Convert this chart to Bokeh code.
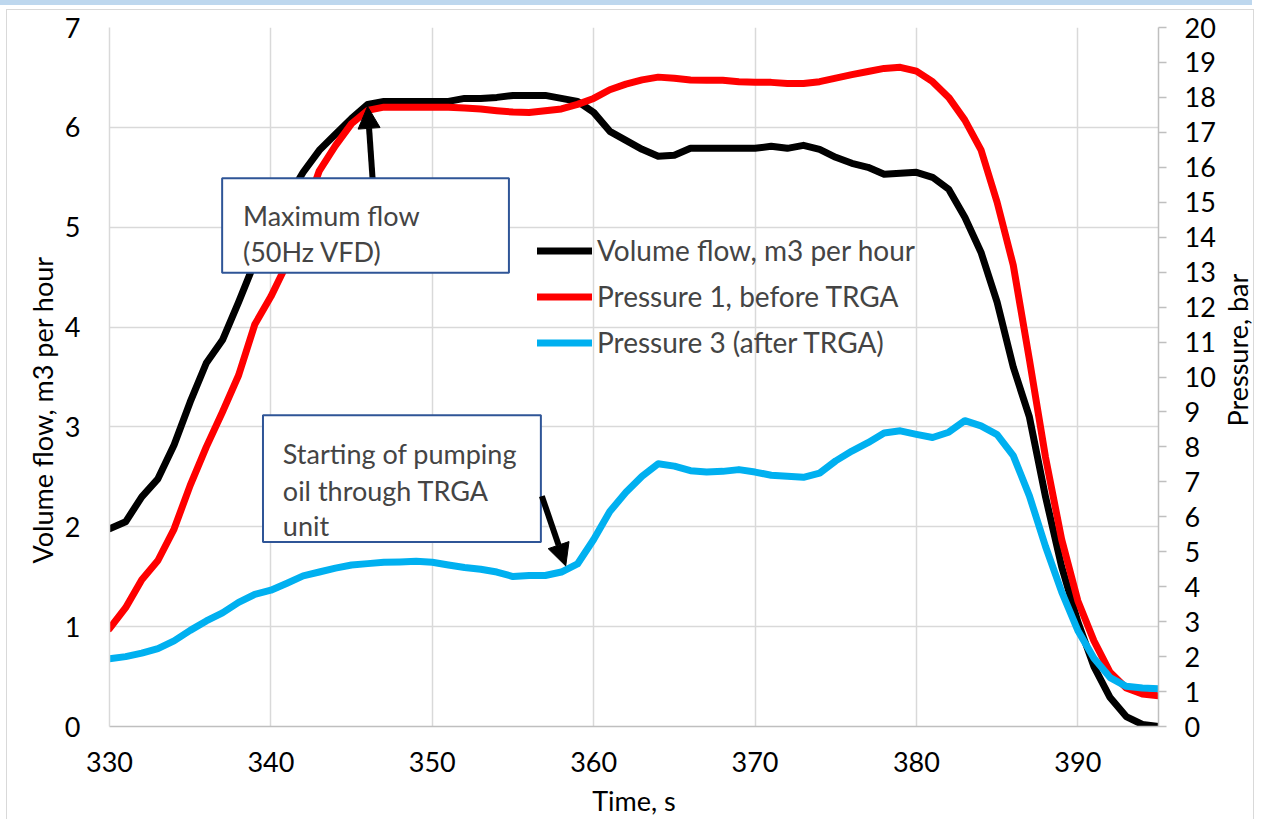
import math
from bokeh.plotting import figure
from bokeh.layouts import row
from bokeh.models import (Range1d, LinearAxis, FixedTicker, Legend, LegendItem,
                          BoxAnnotation, Label, Arrow, NormalHead, Title, InlineStyleSheet)
from bokeh.embed import file_html
from bokeh.resources import INLINE

time_s = list(range(330, 396))
volume_flow = [1.98, 2.05, 2.30, 2.48, 2.82, 3.25, 3.64, 3.87, 4.25, 4.65,
               4.97, 5.28, 5.55, 5.77, 5.93, 6.09, 6.23, 6.26, 6.26, 6.26,
               6.26, 6.26, 6.29, 6.29, 6.30, 6.32, 6.32, 6.32, 6.29, 6.26,
               6.15, 5.96, 5.87, 5.78, 5.71, 5.72, 5.79, 5.79, 5.79, 5.79,
               5.79, 5.81, 5.79, 5.82, 5.78, 5.70, 5.64, 5.60, 5.53, 5.54,
               5.55, 5.50, 5.38, 5.10, 4.75, 4.25, 3.60, 3.10, 2.30, 1.60,
               1.05, 0.60, 0.29, 0.10, 0.02, 0.0]
pressure_1 = [2.80, 3.40, 4.20, 4.75, 5.65, 6.90, 8.00, 9.00, 10.05, 11.50,
              12.30, 13.25, 14.60, 15.90, 16.62, 17.25, 17.63, 17.72, 17.72, 17.72,
              17.72, 17.72, 17.70, 17.67, 17.62, 17.58, 17.57, 17.62, 17.67, 17.80,
              17.97, 18.22, 18.38, 18.50, 18.58, 18.55, 18.50, 18.49, 18.49, 18.45,
              18.43, 18.43, 18.40, 18.40, 18.45, 18.55, 18.65, 18.74, 18.83, 18.86,
              18.75, 18.45, 18.00, 17.35, 16.50, 15.00, 13.20, 10.50, 7.70, 5.35,
              3.60, 2.45, 1.55, 1.10, 0.93, 0.88]
pressure_3 = [1.94, 2.00, 2.10, 2.23, 2.45, 2.75, 3.02, 3.25, 3.55, 3.78,
              3.90, 4.10, 4.31, 4.42, 4.53, 4.62, 4.66, 4.70, 4.71, 4.73,
              4.70, 4.62, 4.55, 4.50, 4.42, 4.29, 4.32, 4.32, 4.42, 4.65,
              5.35, 6.15, 6.70, 7.16, 7.52, 7.45, 7.32, 7.28, 7.30, 7.35,
              7.28, 7.19, 7.16, 7.13, 7.25, 7.60, 7.88, 8.12, 8.40, 8.46,
              8.36, 8.27, 8.42, 8.75, 8.60, 8.35, 7.75, 6.60, 5.15, 3.85,
              2.75, 1.95, 1.40, 1.15, 1.10, 1.08]

x_ticks = [330, 340, 350, 360, 370, 380, 390]
left_ticks = list(range(0, 8))
right_ticks = list(range(0, 21))

series_names = ["Volume flow, m3 per hour", "Pressure 1, before TRGA", "Pressure 3 (after TRGA)"]
series_colors = ["#000000", "#FF0000", "#00B0F0"]

FONT = "Lato"
FS = "27px"
GRID = "#D9D9D9"
AX = "#BFBFBF"
LW = 7

p = figure(width=1218, height=819, output_backend="svg", toolbar_location=None,
           x_range=Range1d(330, 395), y_range=Range1d(0, 7),
           min_border_left=109, min_border_right=56, min_border_top=27, min_border_bottom=91)
p.extra_y_ranges = {"right": Range1d(0, 20)}
p.outline_line_color = None
p.background_fill_color = "white"
p.border_fill_color = "white"

# axes
p.xaxis.ticker = FixedTicker(ticks=x_ticks)
p.yaxis.ticker = FixedTicker(ticks=left_ticks)
for ax in (p.xaxis[0], p.yaxis[0]):
    ax.major_tick_out = 0
    ax.major_tick_in = 0
    ax.minor_tick_line_color = None
    ax.axis_line_color = AX
    ax.axis_line_width = 1.5
    ax.major_label_text_font = FONT
    ax.major_label_text_font_size = FS
    ax.major_label_text_color = "black"
    ax.axis_label_text_font = FONT
    ax.axis_label_text_font_size = FS
    ax.axis_label_text_font_style = "normal"
    ax.axis_label_text_color = "black"
p.yaxis.axis_line_color = GRID
p.xaxis.axis_label = "Time, s"
p.xaxis.major_label_standoff = 25
p.xaxis.axis_label_standoff = 9
p.yaxis.major_label_standoff = 29

p.add_layout(Title(text="Volume flow, m3 per hour", align="left", offset=163, standoff=6,
                   text_font=FONT, text_font_size=FS, text_font_style="normal",
                   text_color="black"), "left")

ra = LinearAxis(y_range_name="right", ticker=FixedTicker(ticks=right_ticks))
ra.major_tick_out = 8
ra.major_tick_in = 0
ra.major_tick_line_color = AX
ra.major_tick_line_width = 1.5
ra.minor_tick_line_color = None
ra.axis_line_color = AX
ra.axis_line_width = 1.5
ra.major_label_standoff = 18
ra.major_label_text_font = FONT
ra.major_label_text_font_size = FS
ra.major_label_text_color = "black"
p.add_layout(ra, "right")

# grid
p.xgrid.ticker = FixedTicker(ticks=x_ticks)
p.ygrid.ticker = FixedTicker(ticks=left_ticks)
for g in (p.xgrid[0], p.ygrid[0]):
    g.grid_line_color = GRID
    g.grid_line_width = 1.5

# lines
r1 = p.line(time_s, volume_flow, line_color=series_colors[0], line_width=LW,
            line_join="round", line_cap="round")
r2 = p.line(time_s, pressure_1, line_color=series_colors[1], line_width=LW,
            line_join="round", line_cap="round", y_range_name="right")
r3 = p.line(time_s, pressure_3, line_color=series_colors[2], line_width=LW,
            line_join="round", line_cap="round", y_range_name="right")

legend = Legend(items=[LegendItem(label=series_names[0], renderers=[r1]),
                       LegendItem(label=series_names[1], renderers=[r2]),
                       LegendItem(label=series_names[2], renderers=[r3])],
                location=(428, 367), margin=0, padding=0, spacing=12,
                glyph_width=55, glyph_height=31, label_standoff=5,
                label_text_font=FONT, label_text_font_size="28px",
                background_fill_alpha=0, border_line_alpha=0)
p.add_layout(legend)

# annotations
BOXLINE = "#2F5597"
p.add_layout(Arrow(end=NormalHead(size=22, fill_color="black", line_color="black"),
                   x_start=346.30, y_start=5.49, x_end=345.99, y_end=6.21,
                   line_width=6, line_color="black"))
p.add_layout(BoxAnnotation(left=336.98, right=354.75, top=5.49, bottom=4.544,
                           fill_color="white", fill_alpha=1, line_color=BOXLINE,
                           line_width=2, line_alpha=1))
p.add_layout(Label(x=338.27, y=5.113, text="Maximum flow", text_font=FONT,
                   text_font_size=FS, text_baseline="alphabetic"))
p.add_layout(Label(x=338.27, y=4.753, text="(50Hz VFD)", text_font=FONT,
                   text_font_size=FS, text_baseline="alphabetic"))

p.add_layout(BoxAnnotation(left=339.51, right=356.73, top=3.116, bottom=1.847,
                           fill_color="white", fill_alpha=1, line_color=BOXLINE,
                           line_width=2, line_alpha=1))
for txt, yy in (("Starting of pumping", 2.736), ("oil through TRGA", 2.367), ("unit", 2.017)):
    p.add_layout(Label(x=340.74, y=yy, text=txt, text_font=FONT,
                       text_font_size=FS, text_baseline="alphabetic"))
p.add_layout(Arrow(end=NormalHead(size=22, fill_color="black", line_color="black"),
                   x_start=356.79, y_start=2.307, x_end=358.27, y_end=1.608,
                   line_width=6, line_color="black"))

# narrow strip on the right holding the right-axis title, reading bottom-to-top
p2 = figure(width=43, height=819, output_backend="svg", toolbar_location=None,
            x_range=Range1d(0, 1), y_range=Range1d(0, 819),
            x_axis_location=None, y_axis_location=None, min_border=0)
p2.outline_line_color = None
p2.grid.visible = False
p2.background_fill_color = "white"
p2.border_fill_color = "white"
p2.add_layout(Label(x=0.442, y=441, text="Pressure, bar", angle=math.pi / 2,
                    text_align="center", text_baseline="middle", text_font=FONT,
                    text_font_size=FS, text_color="black"))

layout = row(p, p2, spacing=0)
layout.stylesheets = [InlineStyleSheet(css="""
:host { position: relative; }
:host::after { content: ""; position: absolute; left: 6px; top: 9px; width: 1248px; height: 830px;
  border: 1.5px solid #D9D9D9; border-bottom: none; pointer-events: none; box-sizing: border-box;
  z-index: 10; }
:host::before { content: ""; position: absolute; left: 0px; top: 0px; width: 1252px; height: 5px;
  background: #BDD7EE; pointer-events: none; z-index: 10; }
""")]

open("out.html", "w").write(file_html(layout, INLINE))
